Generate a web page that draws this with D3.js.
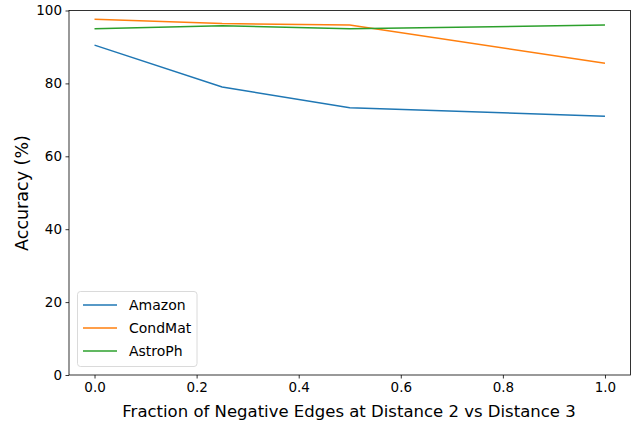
<!DOCTYPE html>
<html><head><meta charset="utf-8">
<script src="https://cdn.jsdelivr.net/npm/d3@7"></script>
<style>body{margin:0;background:#fff}svg{display:block;font-family:"DejaVu Sans",sans-serif}</style>
</head><body><svg id="c" width="634" height="426"></svg>
<script>
const xValues = [0, 0.25, 0.5, 1.0];
const seriesNames = ["Amazon", "CondMat", "AstroPh"];
const amazon = [90.5, 79.0, 73.3, 71.0];
const condMat = [97.6, 96.4, 96.0, 85.5];
const astroPh = [95.0, 95.8, 95.0, 96.0];
const colors = ["#1f77b4", "#ff7f0e", "#2ca02c"];
const xTicks = [0, 0.2, 0.4, 0.6, 0.8, 1.0];
const yTicks = [0, 20, 40, 60, 80, 100];
const xLabel = "Fraction of Negative Edges at Distance 2 vs Distance 3";
const yLabel = "Accuracy (%)";

const svg = d3.select("#c");
const L = 69, R = 630.5, T = 10.5, B = 375;
const x = d3.scaleLinear().domain([-0.05, 1.05]).range([L, R]);
const y = d3.scaleLinear().domain([0, 100]).range([B, T]);

const series = [amazon, condMat, astroPh];
const line = d3.line().x((d, i) => x(xValues[i])).y(d => y(d));
series.forEach((s, k) => {
  svg.append("path").datum(s).attr("d", line).attr("fill", "none")
    .attr("stroke", colors[k]).attr("stroke-width", 1.5);
});

const xa = svg.append("g").attr("transform", `translate(0,${B})`)
  .call(d3.axisBottom(x).tickValues(xTicks).tickFormat(d3.format(".1f")).tickSize(3.5).tickPadding(3.5));
const ya = svg.append("g").attr("transform", `translate(${L},0)`)
  .call(d3.axisLeft(y).tickValues(yTicks).tickFormat(d3.format("d")).tickSize(3.5).tickPadding(3.5));
[xa, ya].forEach(a => {
  a.select(".domain").remove();
  a.selectAll("text").attr("font-size", 13.5).attr("fill", "#000").attr("font-family", "DejaVu Sans");
  a.selectAll("line").attr("stroke", "#000").attr("stroke-width", 0.8);
});
svg.append("rect").attr("x", L).attr("y", T).attr("width", R - L).attr("height", B - T)
  .attr("fill", "none").attr("stroke", "#000").attr("stroke-width", 0.8);

svg.append("text").attr("x", 349).attr("y", 417).attr("text-anchor", "middle")
  .attr("font-size", 16.5).text(xLabel);
svg.append("text").attr("transform", `translate(28,193) rotate(-90)`)
  .attr("text-anchor", "middle").attr("font-size", 17.5).text(yLabel);

const lg = svg.append("g");
lg.append("rect").attr("x", 77.5).attr("y", 291.5).attr("width", 119.5).attr("height", 75)
  .attr("rx", 3).attr("fill", "#fff").attr("fill-opacity", 0.8).attr("stroke", "#d0d0d0").attr("stroke-width", 0.8);
seriesNames.forEach((n, k) => {
  const yy = 305 + k * 23;
  lg.append("line").attr("x1", 83).attr("x2", 117).attr("y1", yy).attr("y2", yy)
    .attr("stroke", colors[k]).attr("stroke-width", 1.5);
  lg.append("text").attr("x", 129).attr("y", yy + 5.2).attr("font-size", 14).text(n);
});
</script></body></html>
